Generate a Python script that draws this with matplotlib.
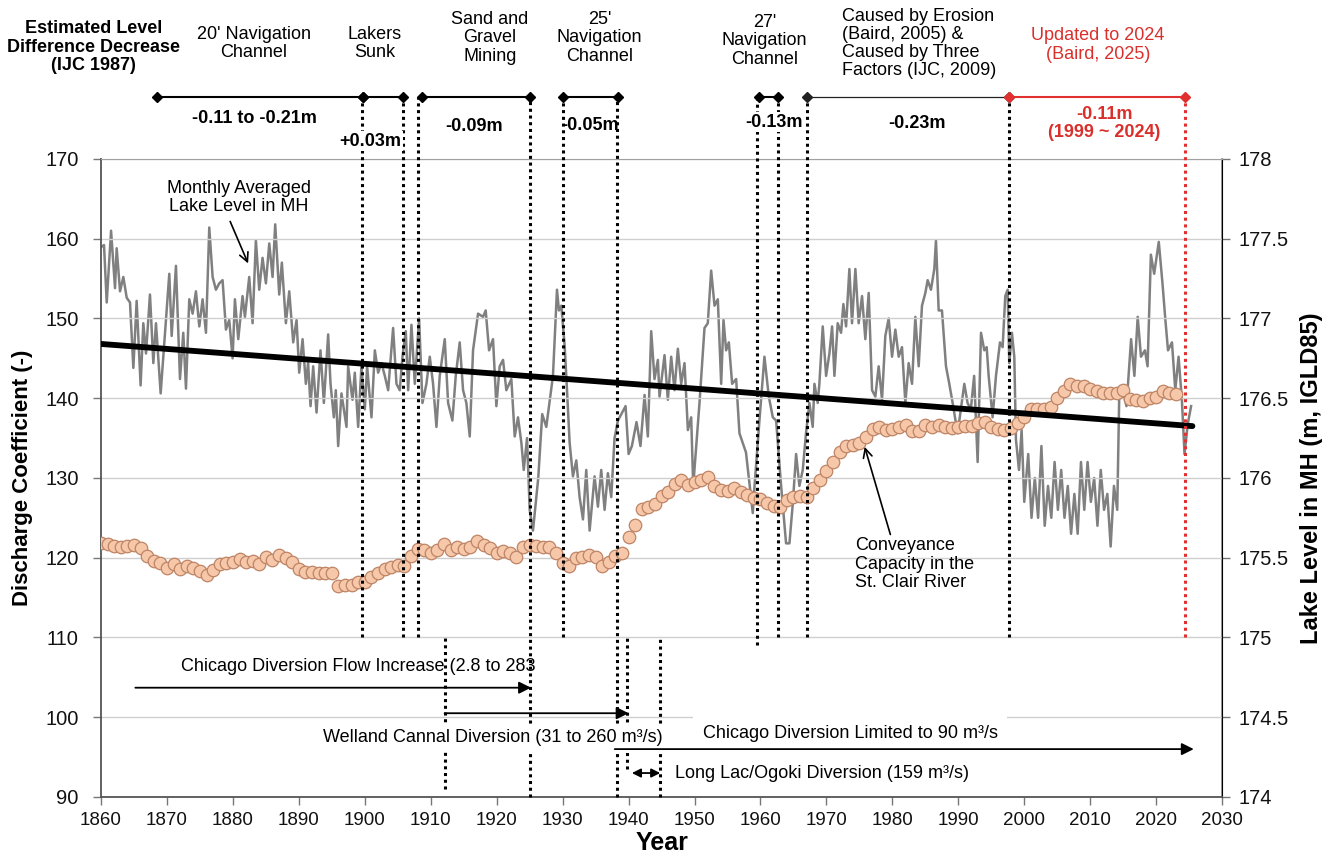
import matplotlib
matplotlib.use("Agg")
import matplotlib.pyplot as plt

plt.rcParams['font.family'] = ['Liberation Sans', 'DejaVu Sans']

# Conveyance capacity (discharge coefficient), one point per year
conv_years = list(range(1860, 2024))
conv_values = [
    121.9, 121.7, 121.5, 121.35, 121.5, 121.6, 121.2, 120.2, 119.6, 119.3,
    118.7, 119.2, 118.6, 118.9, 118.7, 118.3, 117.8, 118.5, 119.2, 119.3,
    119.4, 119.8, 119.5, 119.6, 119.2, 120.05, 119.7, 120.4, 119.9, 119.5,
    118.6, 118.2, 118.2, 118.1, 118.05, 118.1, 116.4, 116.6, 116.6, 116.9,
    116.9, 117.6, 118.1, 118.6, 118.8, 119.1, 119.0, 120.2, 121.1, 121.0,
    120.6, 121.0, 121.7, 121.0, 121.4, 121.1, 121.4, 122.1, 121.6, 121.2,
    120.6, 120.8, 120.6, 120.05, 121.4, 121.6, 121.5, 121.3, 121.3, 120.6,
    119.3, 119.0, 119.9, 120.1, 120.3, 120.05, 118.9, 119.4, 120.2, 120.6,
    122.6, 124.1, 126.1, 126.3, 126.7, 127.7, 128.2, 129.3, 129.7, 129.1,
    129.5, 129.7, 130.1, 129.0, 128.5, 128.4, 128.7, 128.3, 127.9, 127.5,
    127.3, 126.8, 126.5, 126.3, 127.2, 127.6, 127.7, 127.6, 128.8, 129.8,
    130.9, 132.0, 133.2, 134.0, 134.1, 134.4, 135.1, 136.1, 136.4, 136.0,
    136.1, 136.4, 136.6, 135.9, 135.9, 136.6, 136.4, 136.6, 136.4, 136.3,
    136.4, 136.5, 136.5, 136.85, 137.05, 136.4, 136.1, 136.0, 136.2, 136.85,
    137.7, 138.6, 138.6, 138.6, 138.9, 140.0, 140.95, 141.75, 141.5, 141.5,
    141.1, 140.9, 140.7, 140.7, 140.6, 141.0, 139.9, 139.8, 139.7, 140.0,
    140.2, 140.95, 140.7, 140.5,
]

lake_year = [
    1860.1, 1860.45, 1860.86, 1861.52, 1862.12, 1862.37, 1862.88, 1863.38, 1863.89, 1864.39,
    1864.9, 1865.4, 1866.0, 1866.41, 1866.82, 1867.42, 1867.93, 1868.33, 1869.04, 1869.85,
    1870.35, 1870.71, 1871.36, 1871.97, 1872.47, 1872.88, 1873.38, 1873.89, 1874.39, 1874.9,
    1875.4, 1875.91, 1876.41, 1876.92, 1877.42, 1877.93, 1878.43, 1878.94, 1879.44, 1879.95,
    1880.3, 1880.81, 1881.46, 1881.82, 1882.47, 1882.98, 1883.48, 1883.99, 1884.49, 1885.0,
    1885.51, 1886.01, 1886.41, 1887.02, 1887.42, 1888.03, 1888.54, 1889.14, 1889.65, 1890.05,
    1890.56, 1891.06, 1891.4, 1891.77, 1892.17, 1892.68, 1893.28, 1893.79, 1894.44, 1894.8,
    1895.3, 1895.6, 1895.96, 1896.46, 1897.22, 1897.47, 1898.13, 1898.48, 1898.99, 1899.49,
    1900.0, 1900.35, 1901.01, 1901.52, 1902.02, 1902.53, 1903.03, 1903.54, 1904.29, 1904.8,
    1905.3, 1905.71, 1906.21, 1906.57, 1907.07, 1907.58, 1908.23, 1908.74, 1909.34, 1909.85,
    1910.35, 1910.86, 1911.36, 1912.12, 1912.63, 1913.28, 1913.79, 1914.39, 1914.9, 1915.4,
    1915.91, 1916.41, 1917.17, 1917.93, 1918.33, 1918.84, 1919.44, 1919.95, 1920.45, 1920.96,
    1921.46, 1922.22, 1922.73, 1923.23, 1923.74, 1924.1, 1924.6, 1925.0, 1925.5, 1926.3,
    1926.9, 1927.52, 1928.53, 1929.14, 1929.44, 1929.8, 1930.3, 1930.55, 1931.06, 1931.56,
    1932.07, 1932.57, 1933.08, 1933.58, 1934.09, 1934.84, 1935.35, 1935.85, 1936.36, 1936.86,
    1937.37, 1937.87, 1938.38, 1939.54, 1940.0, 1940.5, 1941.2, 1941.8, 1942.42, 1942.92,
    1943.43, 1943.93, 1944.44, 1944.69, 1945.45, 1945.95, 1946.46, 1946.96, 1947.47, 1947.98,
    1948.48, 1948.99, 1949.49, 1949.8, 1950.75, 1951.51, 1952.01, 1952.52, 1953.03, 1953.53,
    1954.04, 1954.39, 1954.79, 1955.2, 1955.7, 1956.31, 1956.81, 1957.8, 1958.83, 1959.1,
    1959.84, 1960.6, 1961.26, 1961.87, 1962.37, 1963.13, 1963.88, 1964.39, 1964.9, 1965.4,
    1965.9, 1966.41, 1966.9, 1967.42, 1967.92, 1968.18, 1968.68, 1968.93, 1969.44, 1969.95,
    1970.45, 1970.86, 1971.21, 1971.71, 1972.22, 1972.57, 1972.98, 1973.48, 1973.88, 1974.39,
    1974.89, 1975.4, 1975.9, 1976.41, 1976.92, 1977.42, 1977.92, 1978.43, 1978.93, 1979.44,
    1979.95, 1980.45, 1980.96, 1981.46, 1981.97, 1982.47, 1982.98, 1983.48, 1983.99, 1984.49,
    1985.0, 1985.35, 1985.85, 1986.36, 1986.61, 1987.02, 1987.52, 1988.13, 1988.63, 1989.14,
    1989.89, 1990.65, 1990.91, 1991.4, 1991.9, 1992.4, 1992.93, 1993.44, 1993.94, 1994.3,
    1994.6, 1995.2, 1995.71, 1996.32, 1996.72, 1997.12, 1997.48, 1997.73, 1998.13, 1998.49,
    1998.74, 1999.2, 1999.6, 2000.0, 2000.6, 2001.1, 2001.6, 2002.1, 2002.6, 2003.1,
    2003.6, 2004.1, 2004.6, 2005.1, 2005.6, 2006.1, 2006.6, 2007.1, 2007.6, 2008.1,
    2008.6, 2009.1, 2009.6, 2010.1, 2010.6, 2011.1, 2011.6, 2012.1, 2012.6, 2013.1,
    2013.6, 2014.1, 2014.4, 2014.9, 2015.5, 2016.2, 2016.7, 2017.2, 2017.7, 2018.3,
    2018.7, 2019.2, 2019.7, 2020.4, 2020.96, 2021.4, 2021.8, 2022.4, 2022.9, 2023.4,
    2023.9, 2024.3, 2024.8, 2025.3,
]
lake_level = [
    177.45, 177.46, 177.10, 177.55, 177.19, 177.44, 177.17, 177.26, 177.13, 177.10,
    176.69, 177.11, 176.58, 176.97, 176.78, 177.15, 176.72, 176.97, 176.53, 176.99,
    177.28, 176.89, 177.33, 176.62, 176.91, 176.56, 177.12, 177.03, 177.17, 176.95,
    177.12, 176.91, 177.57, 177.26, 177.18, 177.22, 177.24, 176.93, 176.99, 176.75,
    177.12, 176.87, 177.14, 177.01, 177.26, 176.97, 177.49, 177.18, 177.38, 177.22,
    177.47, 177.26, 177.59, 177.15, 177.35, 176.97, 177.17, 176.85, 176.99, 176.66,
    176.87, 176.59, 176.72, 176.45, 176.70, 176.41, 176.80, 176.47, 176.90, 176.59,
    176.38, 176.55, 176.20, 176.53, 176.32, 176.70, 176.49, 176.66, 176.32, 176.70,
    176.43, 176.70, 176.38, 176.80, 176.66, 176.72, 176.64, 176.55, 176.94, 176.59,
    176.55, 176.76, 176.92, 176.55, 176.96, 176.59, 177.00, 176.47, 176.59, 176.76,
    176.59, 176.32, 176.64, 176.87, 176.47, 176.36, 176.64, 176.85, 176.55, 176.47,
    176.26, 176.80, 177.03, 177.01, 177.05, 176.80, 176.87, 176.45, 176.70, 176.74,
    176.55, 176.62, 176.26, 176.38, 176.22, 176.05, 176.25, 175.80, 175.67, 176.00,
    176.40, 176.32, 176.64, 177.18, 177.05, 177.08, 176.83, 176.64, 176.22, 176.01,
    176.11, 175.88, 175.74, 176.05, 175.67, 176.01, 175.82, 176.05, 175.80, 176.03,
    175.88, 176.25, 176.36, 176.45, 176.15, 176.20, 176.35, 176.20, 176.52, 176.26,
    176.92, 176.62, 176.74, 176.51, 176.77, 176.49, 176.76, 176.55, 176.81, 176.59,
    176.72, 176.30, 176.38, 175.95, 176.47, 176.94, 176.97, 177.30, 177.08, 177.12,
    176.59, 176.99, 176.80, 176.85, 176.59, 176.62, 176.28, 176.16, 175.78, 175.95,
    176.36, 176.76, 176.51, 176.38, 176.36, 175.95, 175.59, 175.59, 175.84, 176.15,
    175.95, 176.05, 176.28, 176.47, 176.32, 176.59, 176.47, 176.59, 176.95, 176.64,
    176.78, 176.95, 176.64, 176.97, 176.91, 177.09, 176.95, 177.31, 176.97, 177.31,
    176.97, 177.14, 176.87, 177.16, 176.55, 176.51, 176.70, 176.49, 176.89, 177.00,
    176.76, 176.93, 176.76, 176.82, 176.47, 176.72, 176.59, 177.01, 176.70, 177.08,
    177.16, 177.24, 177.18, 177.31, 177.49, 177.05, 177.05, 176.70, 176.59, 176.47,
    176.28, 176.51, 176.59, 176.47, 176.43, 176.64, 176.10, 176.91, 176.80, 176.82,
    176.64, 176.38, 176.64, 176.85, 176.82, 177.14, 177.18, 176.72, 176.91, 176.76,
    176.24, 176.05, 176.30, 175.85, 176.15, 175.75, 176.00, 175.75, 176.20, 175.70,
    175.95, 175.75, 176.10, 175.80, 176.05, 175.75, 175.95, 175.65, 175.90, 175.65,
    176.10, 175.80, 176.10, 175.85, 176.00, 175.70, 176.05, 175.80, 175.90, 175.57,
    175.95, 175.80, 176.51, 176.55, 176.45, 176.87, 176.64, 177.01, 176.76, 176.80,
    176.70, 177.40, 177.28, 177.48, 177.22, 176.99, 176.80, 176.85, 176.55, 176.76,
    176.49, 176.15, 176.34, 176.45,
]

# long-term trend of the lake level difference
trend_years = [1860, 2025.5]
trend_values = [146.8, 136.5]

# top segments: (start, end, colour, line width)
segments = [
    (1868.5, 1899.7, 'black', 1.5),
    (1899.7, 1905.8, 'black', 1.5),
    (1908.6, 1925.0, 'black', 1.5),
    (1930.0, 1938.4, 'black', 1.5),
    (1959.8, 1962.6, 'black', 1.5),
    (1967.1, 1997.7, '#222222', 0.9),
    (1997.7, 2024.4, '#E03030', 1.5),
]
# dotted markers: (year, bottom, top, colour)
dotted = [
    (1899.5, 110, 177.5, 'black'), (1905.8, 110, 177.8, 'black'),
    (1908.0, 110, 177.8, 'black'), (1925.0, 90, 177.8, 'black'),
    (1930.0, 110, 177.8, 'black'), (1938.2, 90, 177.8, 'black'),
    (1959.4, 109, 177.4, 'black'), (1962.6, 110, 177.8, 'black'),
    (1967.1, 110, 177.8, 'black'), (1997.7, 110, 177.8, 'black'),
    (2024.4, 110, 177.8, '#E03030'),
    (1912.1, 91, 110, 'black'), (1939.7, 93.5, 110, 'black'),
    (1944.7, 90, 110, 'black'),
]

red = '#D9302C'
fs = 13

fig = plt.figure(figsize=(13.33, 8.6), dpi=100)
ax = fig.add_axes([0.0758, 0.0733, 0.841, 0.7419])
ax2 = ax.twinx()
ax.set_zorder(ax2.get_zorder() + 1)
ax.patch.set_visible(False)

ax.set_xlim(1860, 2030)
ax.set_ylim(90, 170)
ax2.set_ylim(174, 178)

ax.set_xticks(range(1860, 2031, 10))
ax.set_yticks(range(90, 171, 10))
ax2.set_yticks([174, 174.5, 175, 175.5, 176, 176.5, 177, 177.5, 178])
ax2.set_yticklabels(['174', '174.5', '175', '175.5', '176', '176.5', '177', '177.5', '178'])

for a in (ax, ax2):
    a.tick_params(labelsize=14.5, length=6, width=1, colors='#777777', labelcolor='#111111')
ax.tick_params(axis='y', pad=10)
ax2.tick_params(axis='y', pad=6)
ax.tick_params(axis='x', labelsize=13.5, pad=5)
ax.grid(axis='y', color='#CFCFCF', lw=1)
ax.set_axisbelow(True)
for s in ('left', 'bottom'):
    ax.spines[s].set_color('#555555')
    ax.spines[s].set_linewidth(1.3)
ax.spines['top'].set_color('#A0A0A0')
ax2.spines['right'].set_color('#909090')
ax2.spines['right'].set_linewidth(1.3)
ax2.spines['top'].set_visible(False)
ax2.spines['left'].set_visible(False)
ax2.spines['bottom'].set_visible(False)

ax.set_xlabel('Year', fontsize=18, fontweight='bold', labelpad=1)
ax.set_ylabel('Discharge Coefficient (-)', fontsize=16, fontweight='bold', labelpad=9)
ax2.set_ylabel('Lake Level in MH (m, IGLD85)', fontsize=17, fontweight='bold', labelpad=8)

# series
ax2.plot(lake_year, lake_level, color='#808080', lw=1.8, zorder=2)
ax.plot(conv_years, conv_values, 'o', ms=9, mfc='#F6C7A8', mec='#BE8466', mew=0.9, zorder=3)
ax.plot(trend_years, trend_values, color='black', lw=4.2, solid_capstyle='round', zorder=4)

# event markers
for yr, y0, y1, c in dotted:
    ax.plot([yr, yr], [y0, y1], color=c, lw=2.2, ls=(0, (1, 1.2)), clip_on=False, zorder=5)
for x0, x1, c, lw in segments:
    ax.plot([x0, x1], [177.8, 177.8], color=c, lw=lw, marker='D', ms=5, mfc=c, mec=c,
            clip_on=False, zorder=6)

# headings above the plot
ax.text(1858.9, 184.0, 'Estimated Level\nDifference Decrease\n(IJC 1987)', ha='center', va='center',
        fontsize=fs, fontweight='bold', linespacing=1.1)
head = [
    (1883.2, 184.5, "20' Navigation\nChannel"),
    (1901.5, 184.5, 'Lakers\nSunk'),
    (1919.0, 185.2, 'Sand and\nGravel\nMining'),
    (1935.6, 185.2, "25'\nNavigation\nChannel"),
    (1960.6, 184.8, "27'\nNavigation\nChannel"),
]
for x, y, t in head:
    ax.text(x, y, t, ha='center', va='center', fontsize=fs, linespacing=1.1)
ax.text(1972.4, 184.5, 'Caused by Erosion\n(Baird, 2005) &\nCaused by Three\nFactors (IJC, 2009)',
        ha='left', va='center', fontsize=fs, linespacing=1.08)
ax.text(2011.2, 184.3, 'Updated to 2024\n(Baird, 2025)', ha='center', va='center', fontsize=fs,
        color=red, linespacing=1.1)

vals = [
    (1883.2, 175.1, '-0.11 to -0.21m', False),
    (1900.8, 172.2, '+0.03m', True),
    (1916.6, 174.1, '-0.09m', False),
    (1934.1, 174.2, '-0.05m', False),
    (1962.1, 174.6, '-0.13m', True),
    (1983.8, 174.5, '-0.23m', False),
]
for x, y, t, boxed in vals:
    box = dict(facecolor='white', edgecolor='none', pad=1) if boxed else None
    ax.text(x, y, t, ha='center', va='center', fontsize=fs, fontweight='bold', bbox=box, zorder=7)
ax.text(2012.1, 174.4, '-0.11m\n(1999 ~ 2024)', ha='center', va='center', fontsize=fs,
        fontweight='bold', color=red, linespacing=1.1)

# callouts inside the plot
ax.annotate('Monthly Averaged\nLake Level in MH', xy=(1882.3, 156.9), xytext=(1880.9, 165.2),
            ha='center', va='center', fontsize=fs, linespacing=1.1,
            arrowprops=dict(arrowstyle='->', color='black', lw=1.2, shrinkA=3, shrinkB=0,
                            mutation_scale=16, relpos=(0.42, 0.0)))
ax.annotate('Conveyance\nCapacity in the\nSt. Clair River', xy=(1975.8, 133.9), xytext=(1974.4, 119.2),
            ha='left', va='center', fontsize=fs, linespacing=1.1,
            arrowprops=dict(arrowstyle='->', color='black', lw=1.2, shrinkA=0, shrinkB=0,
                            mutation_scale=16, relpos=(0.3, 1.0)))

# diversion notes
ax.text(1899.0, 106.3, 'Chicago Diversion Flow Increase (2.8 to 283', ha='center', va='center',
        fontsize=fs)
ax.annotate('', xy=(1925.2, 103.7), xytext=(1865.2, 103.7),
            arrowprops=dict(arrowstyle='-|>', color='black', lw=1.3, mutation_scale=18,
                            shrinkA=0, shrinkB=0))
ax.annotate('', xy=(1940.0, 100.5), xytext=(1912.1, 100.5),
            arrowprops=dict(arrowstyle='-|>', color='black', lw=1.3, mutation_scale=18,
                            shrinkA=0, shrinkB=0))
ax.text(1919.4, 97.4, 'Welland Cannal Diversion (31 to 260 m\u00b3/s)', ha='center', va='center',
        fontsize=fs, zorder=7, bbox=dict(facecolor='white', edgecolor='none', pad=4))
ax.text(1973.6, 98.0, 'Chicago Diversion Limited to 90 m\u00b3/s', ha='center', va='center',
        fontsize=fs, zorder=7, bbox=dict(facecolor='white', edgecolor='none', pad=7))
ax.annotate('', xy=(2025.7, 96.0), xytext=(1937.9, 96.0),
            arrowprops=dict(arrowstyle='-|>', color='black', lw=1.3, mutation_scale=18,
                            shrinkA=0, shrinkB=0), zorder=8)
ax.annotate('', xy=(1944.8, 93.0), xytext=(1940.5, 93.0),
            arrowprops=dict(arrowstyle='<|-|>', color='black', lw=1.3, mutation_scale=13,
                            shrinkA=0, shrinkB=0))
ax.text(1947.0, 93.0, 'Long Lac/Ogoki Diversion (159 m\u00b3/s)', ha='left', va='center',
        fontsize=fs)

fig.savefig('out.png', dpi=100)
